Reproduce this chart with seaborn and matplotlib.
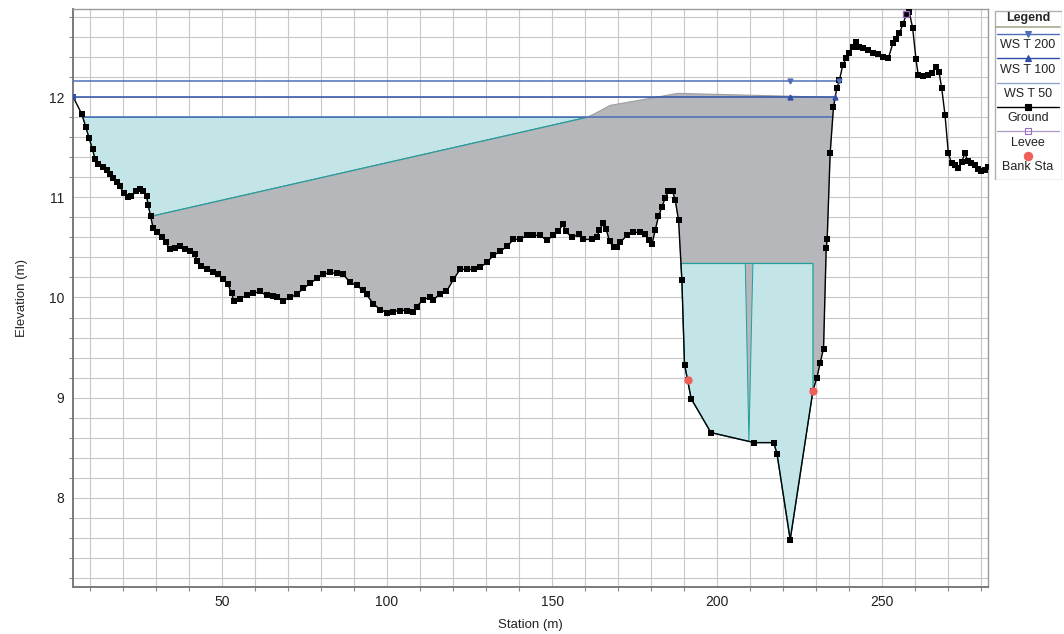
import numpy as np
import matplotlib
matplotlib.use("Agg")
import matplotlib.pyplot as plt
from matplotlib.ticker import MultipleLocator
from matplotlib.patches import Rectangle
import seaborn as sns
import pandas as pd

# ground profile (station m, elevation m)
station = [5.0, 7.6, 8.8, 9.8, 10.8, 11.6, 12.5, 13.9, 15.1, 16.1, 17.1, 18.1, 19.1, 20.3,
           21.6, 22.6, 23.9, 25.2, 26.2, 27.2, 27.7, 28.4, 29.2, 30.4, 31.7, 33.0, 34.3,
           35.8, 37.3, 38.8, 40.3, 41.8, 42.5, 43.8, 45.4, 47.4, 48.9, 50.4, 51.9, 52.9,
           53.6, 55.5, 57.5, 59.5, 61.5, 63.5, 65.5, 66.6, 68.6, 70.6, 72.6, 74.6, 76.7,
           78.7, 80.7, 82.7, 84.7, 86.8, 88.8, 90.8, 92.8, 93.8, 95.8, 97.9, 99.9, 101.9,
           103.9, 105.9, 107.9, 109.0, 111.0, 113.0, 114.0, 116.0, 118.0, 120.1, 122.1,
           124.1, 126.2, 128.2, 130.2, 132.2, 134.2, 136.3, 138.3, 140.3, 142.3, 144.3,
           146.4, 148.4, 150.4, 151.9, 153.2, 154.2, 156.0, 158.0, 159.5, 162.0, 163.5,
           164.3, 165.4, 166.4, 167.4, 168.6, 169.6, 170.6, 172.6, 174.6, 176.7, 178.2,
           179.2, 180.2, 181.2, 182.2, 183.2, 184.2, 185.2, 186.5, 187.3, 188.3, 189.3,
           190.1, 191.0, 192.1, 198.1, 211.2, 217.1, 218.1, 222.1, 229.0, 230.2, 231.2,
           232.2, 233.0, 233.3, 234.2, 235.2, 236.2, 237.0, 238.0, 239.0, 240.0, 241.0,
           242.0, 243.0, 244.3, 245.8, 247.3, 248.8, 250.3, 251.8, 253.2, 254.2, 255.2,
           256.2, 257.2, 258.2, 259.2, 260.2, 260.9, 262.4, 263.9, 265.2, 266.2, 267.2,
           268.0, 269.0, 270.0, 271.0, 272.0, 273.0, 274.0, 275.0, 276.0, 277.0, 278.0,
           279.0, 280.0, 281.0, 282.0]
elevation = [12.00, 11.83, 11.70, 11.59, 11.48, 11.38, 11.33, 11.30, 11.27, 11.23, 11.19,
             11.15, 11.11, 11.04, 11.00, 11.01, 11.06, 11.08, 11.06, 11.01, 10.92, 10.81,
             10.69, 10.65, 10.60, 10.55, 10.48, 10.49, 10.51, 10.48, 10.46, 10.43, 10.36,
             10.31, 10.28, 10.25, 10.23, 10.18, 10.13, 10.04, 9.97, 9.99, 10.02, 10.04,
             10.06, 10.02, 10.01, 10.00, 9.97, 10.00, 10.03, 10.09, 10.14, 10.19, 10.23,
             10.25, 10.24, 10.23, 10.15, 10.12, 10.07, 10.03, 9.94, 9.88, 9.85, 9.86, 9.87,
             9.87, 9.86, 9.91, 9.98, 10.00, 9.98, 10.03, 10.06, 10.18, 10.28, 10.28, 10.28,
             10.30, 10.35, 10.42, 10.46, 10.51, 10.58, 10.58, 10.62, 10.62, 10.62, 10.57,
             10.62, 10.66, 10.73, 10.66, 10.60, 10.63, 10.58, 10.58, 10.60, 10.67, 10.74,
             10.68, 10.56, 10.50, 10.50, 10.55, 10.62, 10.65, 10.65, 10.63, 10.57, 10.53,
             10.67, 10.81, 10.90, 10.99, 11.06, 11.06, 10.97, 10.77, 10.17, 9.33, 9.18,
             8.99, 8.65, 8.55, 8.55, 8.44, 7.58, 9.07, 9.20, 9.35, 9.49, 10.49, 10.58,
             11.44, 11.90, 12.09, 12.17, 12.32, 12.39, 12.44, 12.50, 12.55, 12.50, 12.49,
             12.47, 12.44, 12.43, 12.40, 12.39, 12.54, 12.58, 12.64, 12.73, 12.82, 12.85,
             12.69, 12.38, 12.22, 12.21, 12.22, 12.24, 12.30, 12.25, 12.09, 11.82, 11.44,
             11.34, 11.32, 11.29, 11.35, 11.44, 11.36, 11.34, 11.32, 11.28, 11.26, 11.27,
             11.30]

# water surfaces
ws_names = ["WS T 200", "WS T 100", "WS T 50"]
ws_levels = [12.16, 12.00, 11.80]
ws_marker_sta = 222.1

# top edge of the grey (ineffective) area
ineff_sta = [28.4, 160.5, 162.5, 167.6, 179.7, 188.0, 235.6]
ineff_elev = [10.81, 11.80, 11.83, 11.92, 11.99, 12.04, 12.00]

# channel water and pier
channel_ws = 10.34
pier_sta = [208.5, 210.8, 209.6]
pier_elev = [10.34, 10.34, 8.56]

bank_sta = [191.0, 229.0]
bank_elev = [9.18, 9.07]
levee_sta = [257.3]
levee_elev = [12.83]

XLIM = (4.8, 282.1)
YLIM = (7.11, 12.88)

ws_colors = ["#4f70b8", "#2f50a8", "#4a6cb8"]
ws_marks = ["v", "^", None]
teal = "#1f9e9e"
cyan = "#c3e5e7"
grey = "#b5b7ba"

sx = np.array(station)
sy = np.array(elevation)


def crossings(level):
    xs = []
    for i in range(len(sx) - 1):
        a, b = sy[i] - level, sy[i + 1] - level
        if a == 0:
            xs.append(sx[i])
        elif a * b < 0:
            t = (level - sy[i]) / (sy[i + 1] - sy[i])
            xs.append(sx[i] + t * (sx[i + 1] - sx[i]))
    return xs


def ground_between(x0, x1):
    m = (sx > x0) & (sx < x1)
    return list(sx[m]), list(sy[m])


sns.set_theme(style="whitegrid")
plt.rcParams['font.family'] = ['Liberation Sans', 'DejaVu Sans']

fig = plt.figure(figsize=(10.64, 6.34), dpi=100)
ax = fig.add_axes([72.7 / 1064, 1 - 586.7 / 634, (988.3 - 72.7) / 1064, (586.7 - 9.3) / 634])
ax.set_facecolor("white")

# left overbank water (WS T 50)
xl50 = crossings(ws_levels[2])[0]
gx, gy = ground_between(xl50, ineff_sta[0])
px = [xl50] + gx + ineff_sta[:2]
py = [ws_levels[2]] + gy + ineff_elev[:2]
ax.fill(px, py, facecolor=cyan, edgecolor=teal, linewidth=0.8, zorder=2)

# grey ineffective area
gx, gy = ground_between(ineff_sta[0], ineff_sta[-1])
gy_end = np.interp(ineff_sta[-1], sx, sy)
px = ineff_sta + [ineff_sta[-1]] + gx[::-1] + [ineff_sta[0]]
py = ineff_elev + [gy_end] + gy[::-1] + [ineff_elev[0]]
ax.fill(px, py, facecolor=grey, edgecolor="#9c9ea2", linewidth=0.8, zorder=2)
ax.plot(ineff_sta[:2], ineff_elev[:2], color=teal, lw=0.8, zorder=3)

# channel water
xch = [x for x in crossings(channel_ws) if 185 < x < 195][0]
gx, gy = ground_between(xch, bank_sta[1])
px = [xch] + gx + [bank_sta[1], bank_sta[1]]
py = [channel_ws] + gy + [bank_elev[1], channel_ws]
ax.fill(px, py, facecolor=cyan, edgecolor=teal, linewidth=0.9, zorder=3)
ax.fill(pier_sta, pier_elev, facecolor=grey, edgecolor=teal, linewidth=0.7, zorder=3)

# water surface lines
for name, lev, col, mk in zip(ws_names, ws_levels, ws_colors, ws_marks):
    cr = crossings(lev)
    left = [x for x in cr if x < 100]
    right = [x for x in cr if x > 230][0]
    x0 = left[0] if left else XLIM[0]
    df = pd.DataFrame({"sta": [x0, right], "elev": [lev, lev]})
    sns.lineplot(data=df, x="sta", y="elev", color=col, lw=1.1, ax=ax,
                 sort=False, estimator=None, zorder=4)
    if mk:
        ax.plot([ws_marker_sta, right], [lev, lev], ls="none", marker=mk, ms=3.5,
                color=col, zorder=6)

# ground
gdf = pd.DataFrame({"sta": station, "elev": elevation})
sns.lineplot(data=gdf, x="sta", y="elev", color="black", lw=1.0, marker="s",
             markersize=4.2, markeredgewidth=0, sort=False, estimator=None, ax=ax, zorder=5)
ax.plot(station[:1], elevation[:1], ls="none", marker="s", ms=4.2, mew=0,
        color=ws_colors[1], zorder=6)

ax.plot(bank_sta, bank_elev, ls="none", marker="o", ms=6, color="#f0605a",
        markeredgewidth=0, zorder=7)
ax.plot(levee_sta, levee_elev, ls="none", marker="s", ms=5, mfc="none",
        mec="#9b6bc0", mew=1.0, zorder=7, clip_on=False)

ax.set_xlim(*XLIM)
ax.set_ylim(*YLIM)
ax.xaxis.set_major_locator(MultipleLocator(50))
ax.xaxis.set_minor_locator(MultipleLocator(10))
ax.yaxis.set_major_locator(MultipleLocator(1))
ax.yaxis.set_minor_locator(MultipleLocator(0.2))
ax.grid(True, which="both", color="#c8c8c8", lw=0.8)
ax.set_axisbelow(True)
ax.tick_params(which="both", direction="out", length=3, width=0.8, color="#888888",
               labelsize=10, labelcolor="#222222", bottom=True, left=True)
ax.tick_params(which="major", length=0, pad=6)
for s in ["left", "bottom"]:
    ax.spines[s].set_color("#7a7a7a")
    ax.spines[s].set_linewidth(1.4)
for s in ["top", "right"]:
    ax.spines[s].set_color("#9a9a9a")
    ax.spines[s].set_linewidth(1.0)
ax.set_xlabel("Station (m)", fontsize=9.5, color="#222222", labelpad=7)
ax.set_ylabel("Elevation (m)", fontsize=9.5, color="#222222", labelpad=15)

# legend box drawn by hand
lax = fig.add_axes([994 / 1064, 1 - 180 / 634, 68 / 1064, 170 / 634])
lax.set_xlim(0, 68)
lax.set_ylim(170, 0)
lax.axis("off")
lax.add_patch(Rectangle((0.5, 0.5), 67, 169, fill=False, ec="#b0b0b0", lw=1.0))
lax.text(34, 7.5, "Legend", ha="center", va="center", fontsize=9, fontweight="bold")
lax.plot([2, 66], [17, 17], color="#a8a890", lw=1.2)
entries = [("WS T 200", ws_colors[0], "v", ws_colors[0], "none"),
           ("WS T 100", ws_colors[1], "^", ws_colors[1], "none"),
           ("WS T 50", "#8fa4c9", None, None, "none"),
           ("Ground", "black", "s", "black", "none"),
           ("Levee", "#b0a0c8", "s", "none", "#9b6bc0"),
           ("Bank Sta", None, "o", "#f0605a", "none")]
for i, (lab, lc, mk, mfc, mec) in enumerate(entries):
    yl = 24 + i * 24.3
    if lc:
        lax.plot([3, 65], [yl, yl], color=lc, lw=1.0)
    if mk:
        lax.plot([34], [yl], marker=mk, ms=4 if mk != "o" else 6, mfc=mfc,
                 mec=mec if mec != "none" else mfc, mew=0.8, ls="none")
    lax.text(34, yl + 11.5, lab, ha="center", va="center", fontsize=9, color="#222222")

fig.savefig("out.png", dpi=100)
